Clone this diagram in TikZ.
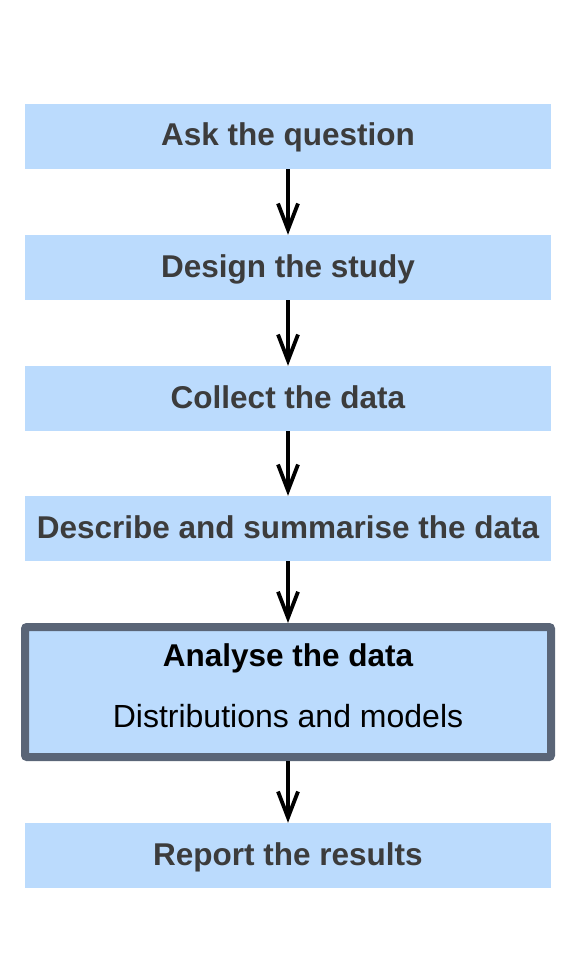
\documentclass[tikz,border=0pt]{standalone}
\usepackage{fontspec}
\setmainfont{Liberation Sans}
\usetikzlibrary{arrows.meta}
\definecolor{boxfill}{HTML}{BBDBFD}
\definecolor{boxtext}{HTML}{3C3C3C}
\definecolor{frame}{HTML}{5A6577}
\tikzset{
  stepbox/.style={fill=boxfill, draw=none, minimum width=526pt, minimum height=65pt, inner sep=0pt, text height=19pt, text depth=0pt, text=boxtext, font=\fontsize{31.5}{36}\selectfont\bfseries},
  flow/.style={draw=black, line width=3.8pt, -{Straight Barb[length=26pt,width=20pt,line width=3.8pt]}}
}
\begin{document}
\begin{tikzpicture}[x=1pt,y=-1pt]
\useasboundingbox (0,0) rectangle (576,960);
\node[stepbox] (ask) at (288,136.5) {Ask the question};
\node[stepbox] (design) at (288,267.5) {Design the study};
\node[stepbox] (collect) at (288,398.5) {Collect the data};
\node[stepbox] (describe) at (288,528.5) {Describe and summarise the data};
\node[fill=boxfill, draw=frame, line width=8pt, rounded corners=2pt, minimum width=526pt, minimum height=130pt, inner sep=0pt] (analyse) at (288,692) {};
\node[font=\fontsize{31.5}{36}\selectfont\bfseries, text=black] (analysetitle) at (288,658) {Analyse the data};
\node[font=\fontsize{32}{36}\selectfont, text=black] (analysesub) at (288,716) {Distributions and models};
\node[stepbox] (report) at (288,855.5) {Report the results};
\draw[flow] (ask) -- (design);
\draw[flow] (design) -- (collect);
\draw[flow] (collect) -- (describe);
\draw[flow] (describe) -- (analyse.north);
\draw[flow] (analyse.south) -- (report);
\end{tikzpicture}
\end{document}
